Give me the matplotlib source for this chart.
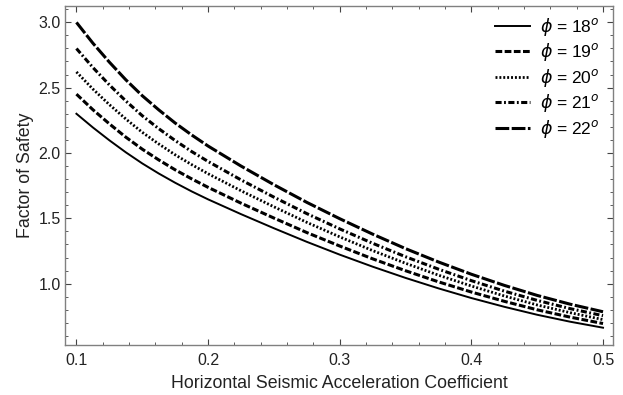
import matplotlib
matplotlib.use("Agg")
import matplotlib.pyplot as plt
from matplotlib.ticker import MultipleLocator

plt.rcParams["font.family"] = ["Liberation Sans", "DejaVu Sans"]

# horizontal seismic acceleration coefficient
kh = [0.1000, 0.1125, 0.1250, 0.1375, 0.1500, 0.1625, 0.1750, 0.1875,
      0.200, 0.225, 0.250, 0.275, 0.300, 0.325, 0.350, 0.375, 0.400,
      0.425, 0.450, 0.475, 0.500]

# factor of safety for each friction angle
fs_18 = [2.300, 2.195, 2.097, 2.005, 1.920, 1.843, 1.772, 1.706,
         1.645, 1.532, 1.424, 1.320, 1.222, 1.130, 1.044, 0.964, 0.890,
         0.823, 0.762, 0.709, 0.663]
fs_19 = [2.450, 2.331, 2.223, 2.121, 2.029, 1.947, 1.871, 1.802,
         1.737, 1.616, 1.502, 1.391, 1.288, 1.190, 1.099, 1.014, 0.936,
         0.865, 0.800, 0.744, 0.695]
fs_20 = [2.620, 2.489, 2.370, 2.260, 2.158, 2.069, 1.986, 1.911,
         1.841, 1.711, 1.588, 1.469, 1.358, 1.253, 1.156, 1.065, 0.982,
         0.906, 0.837, 0.778, 0.725]
fs_21 = [2.799, 2.654, 2.521, 2.398, 2.285, 2.186, 2.095, 2.011,
         1.935, 1.794, 1.662, 1.536, 1.419, 1.309, 1.206, 1.111, 1.023,
         0.943, 0.872, 0.809, 0.755]
fs_22 = [2.999, 2.840, 2.695, 2.560, 2.438, 2.330, 2.229, 2.138,
         2.053, 1.900, 1.757, 1.622, 1.497, 1.379, 1.268, 1.166, 1.072,
         0.987, 0.910, 0.843, 0.785]

labels = [r"$\phi$ = 18$^{o}$", r"$\phi$ = 19$^{o}$", r"$\phi$ = 20$^{o}$",
          r"$\phi$ = 21$^{o}$", r"$\phi$ = 22$^{o}$"]

fig = plt.figure(figsize=(6.23, 3.95), dpi=100)
ax = fig.add_axes([0.1043, 0.127, 0.8797, 0.858])

# solid, short dash, dots, dash-dot, long dash
styles = [
    dict(ls="-", lw=1.4),
    dict(ls=(0, (2.2, 0.8)), lw=2.2),
    dict(ls=(0, (0.7, 0.7)), lw=2.0),
    dict(ls=(0, (2.0, 0.8, 0.6, 0.8)), lw=2.2),
    dict(ls=(0, (4.5, 0.8)), lw=2.2),
]
series = [fs_18, fs_19, fs_20, fs_21, fs_22]
for fs, lab, st in zip(series, labels, styles):
    ax.plot(kh, fs, color="black", label=lab, **st)

ax.set_xlim(0.0913, 0.5076)
ax.set_ylim(0.532, 3.125)

ax.xaxis.set_major_locator(MultipleLocator(0.1))
ax.xaxis.set_minor_locator(MultipleLocator(0.02))
ax.yaxis.set_major_locator(MultipleLocator(0.5))
ax.yaxis.set_minor_locator(MultipleLocator(0.1))
ax.xaxis.set_major_formatter(plt.FuncFormatter(lambda v, p: f"{v:.1f}"))
ax.yaxis.set_major_formatter(plt.FuncFormatter(lambda v, p: f"{v:.1f}"))

frame = "#808080"
for s in ax.spines.values():
    s.set_color(frame)
    s.set_linewidth(1.0)
ax.tick_params(which="both", direction="in", top=True, right=True,
               color="#444444", labelsize=11.5, labelcolor="#222222")
ax.tick_params(axis="x", which="major", pad=6)
ax.tick_params(axis="y", which="major", pad=3)
ax.tick_params(which="major", length=4, width=0.8)
ax.tick_params(which="minor", length=2.5, width=0.6)

ax.set_xlabel("Horizontal Seismic Acceleration Coefficient", fontsize=12.8,
              color="#222222", labelpad=5)
ax.set_ylabel("Factor of Safety", fontsize=12.8, color="#222222", labelpad=3)

ax.legend(loc="upper right", bbox_to_anchor=(1.0, 1.012), frameon=False,
          fontsize=12.5, handlelength=2.0, labelspacing=0.2,
          handletextpad=0.57, borderaxespad=0.4)

fig.savefig("out.png", dpi=100)
